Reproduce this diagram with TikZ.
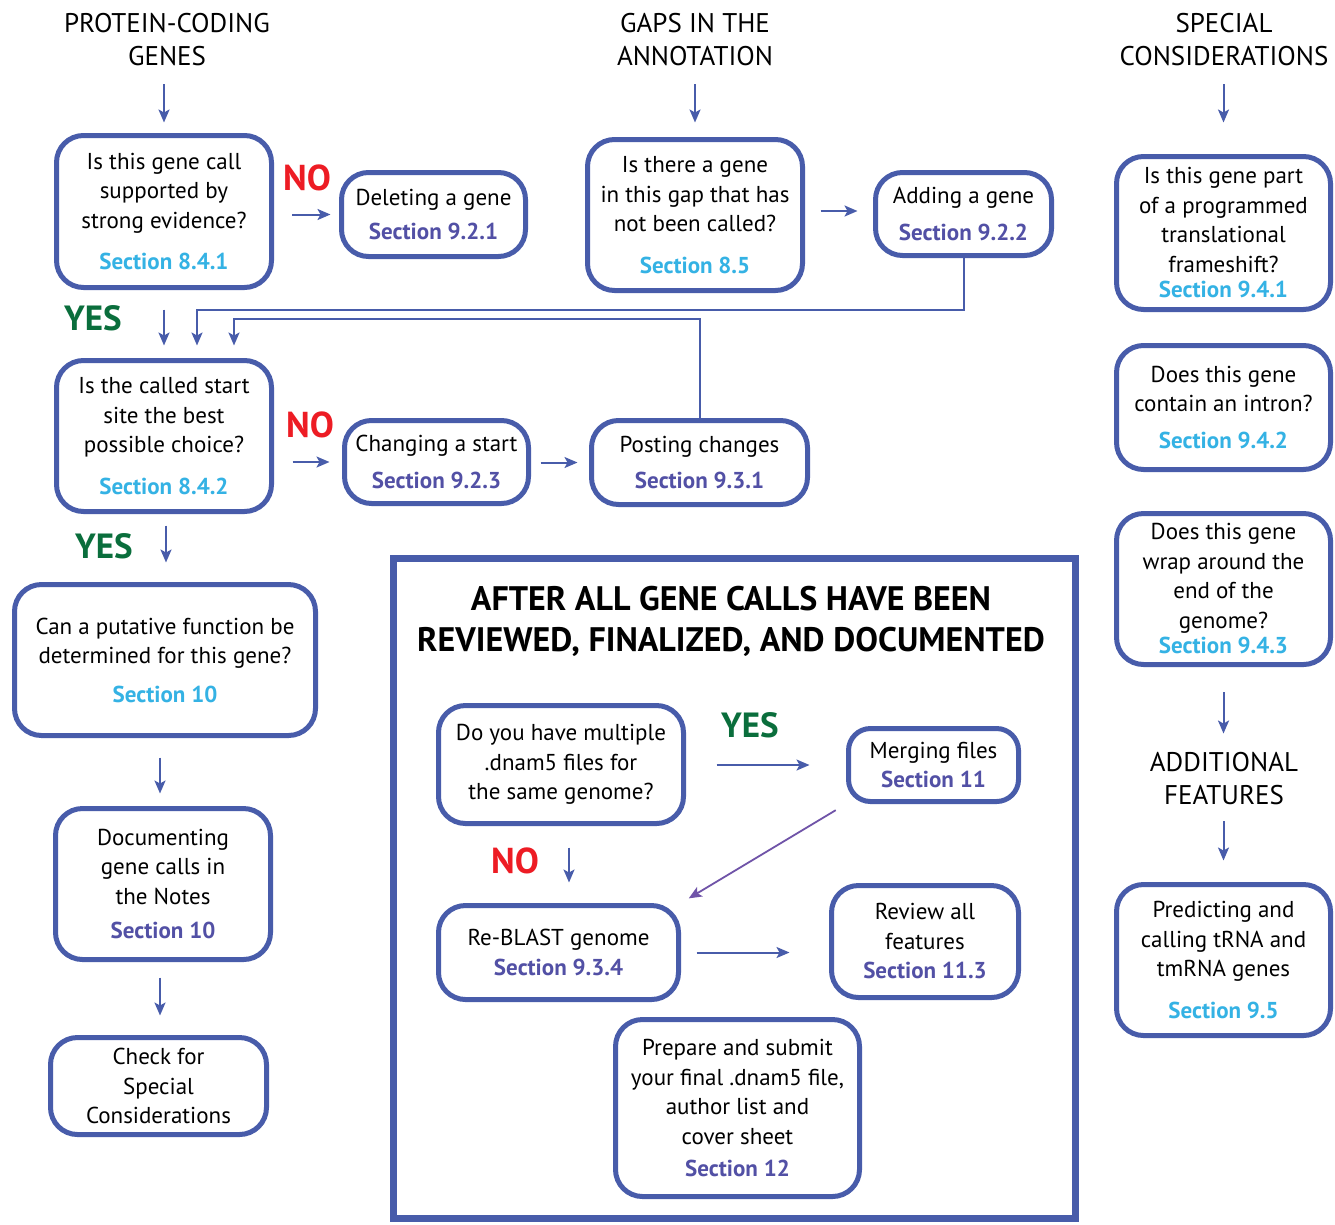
\documentclass[tikz,border=0pt]{standalone}
\usepackage{fontspec}
\setmainfont{PT Sans}
\usetikzlibrary{arrows.meta}
\definecolor{boxc}{RGB}{72,92,170}
\definecolor{secL}{RGB}{52,178,228}
\definecolor{secD}{RGB}{82,80,165}
\definecolor{yesc}{RGB}{10,110,60}
\definecolor{noc}{RGB}{237,28,36}
\definecolor{diagc}{RGB}{112,84,168}
\newcommand{\secL}[1]{{\bfseries\color{secL}#1}}
\newcommand{\secD}[1]{{\bfseries\color{secD}#1}}
\begin{document}
\begin{tikzpicture}[x=1pt,y=-1pt,
  box/.style={draw=boxc, line width=5pt, rounded corners=27pt, align=center, inner sep=0pt, fill=white,
     font=\fontsize{23}{29.5}\selectfont},
  head/.style={align=center, inner sep=0pt, font=\fontsize{27}{33}\selectfont},
  arr/.style={draw=boxc, line width=2pt, -{Stealth[length=13pt,width=11pt,inset=3pt]}},
  yes/.style={inner sep=0pt, text=yesc, font=\bfseries\fontsize{35}{35}\selectfont},
  no/.style={inner sep=0pt, text=noc, font=\bfseries\fontsize{36}{36}\selectfont}]
\useasboundingbox (0,0) rectangle (1335,1224);
\fill[white] (0,0) rectangle (1335,1224);

% headers
\node[head] (h1) at (167,40) {PROTEIN-CODING\\GENES};
\node[head] (h2) at (695,40) {GAPS IN THE\\ANNOTATION};
\node[head] (h3) at (1224,40) {SPECIAL\\CONSIDERATIONS};
\node[head] (h4) at (1224,779) {ADDITIONAL\\FEATURES};

% left and middle boxes
\node[box, minimum width=215pt, minimum height=152pt] (b1) at (164,211.5)
  {Is this gene call\\supported by\\strong evidence?\\[12pt]\secL{Section 8.4.1}};
\node[box, minimum width=184pt, minimum height=84pt] (b2) at (433.5,214.5)
  {Deleting a gene\\[5pt]\secD{Section 9.2.1}};
\node[box, minimum width=215pt, minimum height=151pt] (b3) at (695,215)
  {Is there a gene\\in this gap that has\\not been called?\\[12pt]\secL{Section 8.5}};
\node[box, minimum width=176pt, minimum height=83pt] (b4) at (963.5,214)
  {Adding a gene\\[7pt]\secD{Section 9.2.2}};
\node[box, minimum width=215pt, minimum height=151pt] (b5) at (164,436)
  {Is the called start\\site the best\\possible choice?\\[12pt]\secL{Section 8.4.2}};
\node[box, minimum width=184pt, minimum height=83pt] (b6) at (436.5,462)
  {Changing a start\\[7pt]\secD{Section 9.2.3}};
\node[box, minimum width=216pt, minimum height=84pt] (b7) at (699.5,462.5)
  {Posting changes\\[7pt]\secD{Section 9.3.1}};
\node[box, minimum width=301pt, minimum height=151pt] (b8) at (165,660)
  {Can a putative function be\\determined for this gene?\\[9pt]\secL{Section 10}};
\node[box, minimum width=215pt, minimum height=151pt] (b9) at (163,884)
  {Documenting\\gene calls in\\the Notes\\[5pt]\secD{Section 10}};
\node[box, minimum width=216pt, minimum height=97pt] (b10) at (158.5,1086)
  {Check for\\Special\\Considerations};

% right column
\node[box, minimum width=214pt, minimum height=153pt] (r1) at (1223.5,233)
  {Is this gene part\\of a programmed\\translational\\frameshift?\\[-4pt]\secL{Section 9.4.1}};
\node[box, minimum width=214pt, minimum height=124pt] (r2) at (1223.5,407.5)
  {Does this gene\\contain an intron?\\[7pt]\secL{Section 9.4.2}};
\node[box, minimum width=214pt, minimum height=151pt] (r3) at (1223.5,589)
  {Does this gene\\wrap around the\\end of the\\genome?\\[-4pt]\secL{Section 9.4.3}};
\node[box, minimum width=214pt, minimum height=151pt] (r4) at (1223.5,960)
  {Predicting and\\calling tRNA and\\tmRNA genes\\[12pt]\secL{Section 9.5}};

% frame
\node[draw=boxc, line width=7pt, minimum width=682pt, minimum height=660pt, inner sep=0pt] (frame) at (734.5,888.5) {};
\node[align=center, inner sep=0pt, font=\bfseries\fontsize{34}{41}\selectfont] (title) at (731,621)
  {AFTER ALL GENE CALLS HAVE BEEN\\REVIEWED, FINALIZED, AND DOCUMENTED};

\node[box, minimum width=245pt, minimum height=118pt] (c1) at (561,764.5)
  {Do you have multiple\\.dnam5 files for\\the same genome?};
\node[box, minimum width=170pt, minimum height=73pt, rounded corners=22pt] (c2) at (933.5,765)
  {Merging files\\[0pt]\secD{Section 11}};
\node[box, minimum width=240pt, minimum height=94pt] (c3) at (558.5,952.5)
  {Re-BLAST genome\\[0pt]\secD{Section 9.3.4}};
\node[box, minimum width=187pt, minimum height=112pt] (c4) at (925,941.5)
  {Review all\\features\\[0pt]\secD{Section 11.3}};
\node[box, minimum width=244pt, minimum height=177pt] (c5) at (737.5,1108)
  {Prepare and submit\\your final .dnam5 file,\\author list and\\cover sheet\\[3pt]\secD{Section 12}};

% labels
\node[no] (no1) at (307,178) {NO};
\node[no] (no2) at (310,425) {NO};
\node[yes] (yes1) at (93,318) {YES};
\node[yes] (yes2) at (104,546) {YES};
\node[yes] (yes3) at (750,725) {YES};
\node[no] (no3) at (515,861) {NO};

% connectors
\draw[arr, shorten <=18pt, shorten >=10.5pt] (h1.south -| b1.north) -- (b1.north);
\draw[arr, shorten <=18pt, shorten >=14.5pt] (h2.south -| b3.north) -- (b3.north);
\draw[arr, shorten <=18pt, shorten >=31.5pt] (h3.south -| r1.north) -- (r1.north);
\draw[arr, shorten <=18pt, shorten >=8.5pt] (b1.east |- b2.west) -- (b2.west);
\draw[arr, shorten <=15.5pt, shorten >=15.5pt] ([yshift=4pt]b3.east) -- ([yshift=4pt]b3.east -| b4.west);
\draw[arr, shorten <=19.5pt, shorten >=12.5pt] (b1.south) -- (b5.north);
\draw[boxc, line width=2pt, -{Stealth[length=13pt,width=11pt,inset=3pt]}, shorten >=12.5pt]
  (b4.south) -- ++(0,51.5) -| ([xshift=33pt]b5.north);
\draw[boxc, line width=2pt, -{Stealth[length=13pt,width=11pt,inset=3pt]}, shorten >=12.5pt]
  (b7.north) -- ++(0,-99.5) -| ([xshift=70pt]b5.north);
\draw[arr, shorten <=18.5pt, shorten >=12.5pt] (b5.east |- b6.west) -- (b6.west);
\draw[arr, shorten <=9.5pt, shorten >=11.5pt] (b6.east |- b7.west) -- (b7.west);
\draw[arr, shorten <=11.5pt, shorten >=19.5pt] ([xshift=2pt]b5.south) -- ([xshift=1pt]b8.north);
\draw[arr, shorten <=19.5pt, shorten >=12.5pt] ([xshift=-5pt]b8.south) -- ([xshift=-3pt]b9.north);
\draw[arr, shorten <=15.5pt, shorten >=19.5pt] ([xshift=-3pt]b9.south) -- ([xshift=1.5pt]b10.north);
\draw[arr, shorten <=25pt, shorten >=19pt] (r3.south) -- (h4.north -| r3.south);
\draw[arr, shorten <=16pt, shorten >=21.5pt] (h4.south -| r4.north) -- (r4.north);
\draw[arr, shorten <=30.5pt, shorten >=36.5pt] (c1.east |- c2.west) -- (c2.west);
\draw[diagc, line width=1.8pt, -{Stealth[length=13pt,width=11pt,inset=3pt]}, shorten <=12pt, shorten >=9pt]
  (c2.south west) -- (c3.north east);
\draw[arr, shorten <=21.5pt, shorten >=20.5pt] ([xshift=8pt]c1.south) -- ([xshift=10.5pt]c3.north);
\draw[arr, shorten <=15.5pt, shorten >=39.5pt] (c3.east) -- (c3.east -| c4.west);
\end{tikzpicture}
\end{document}
